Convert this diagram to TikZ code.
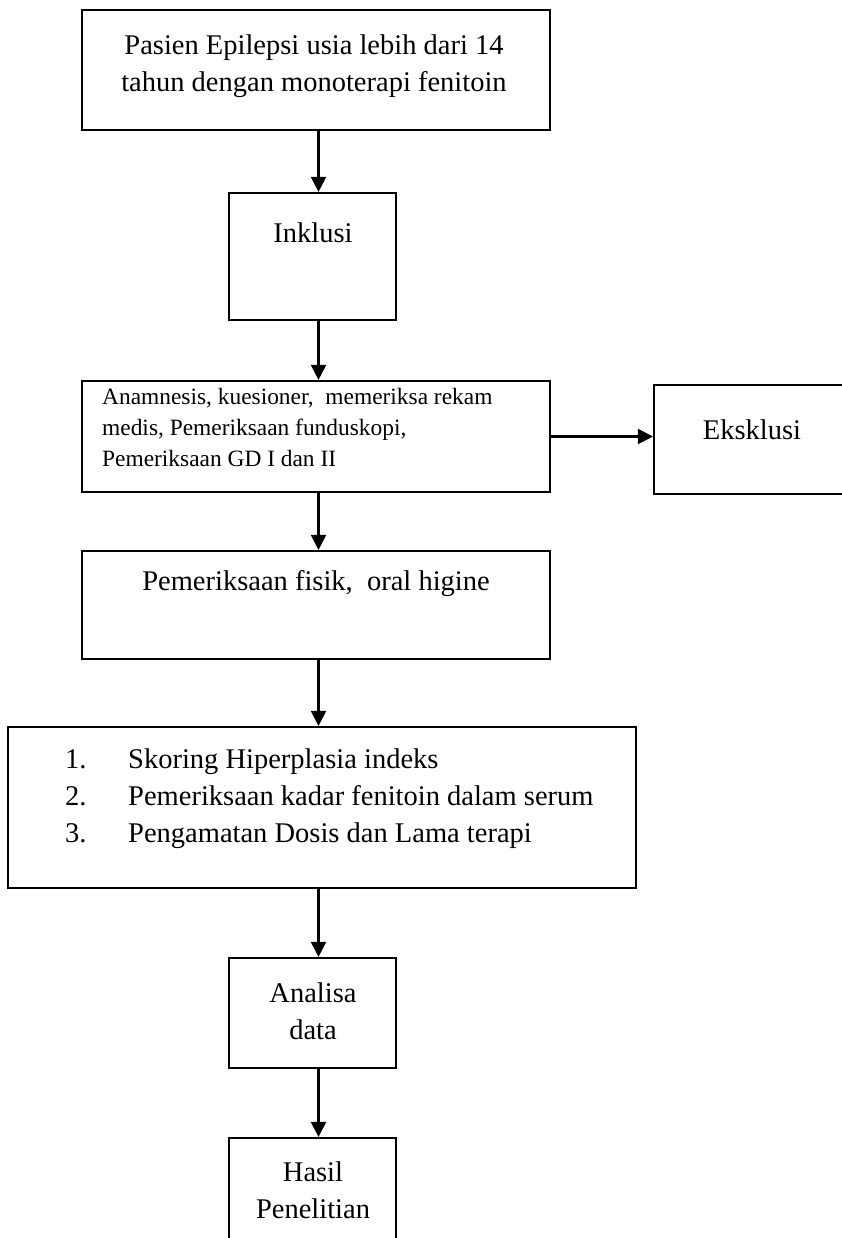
\documentclass[tikz,border=0pt]{standalone}
\usepackage{fontspec}
\setmainfont{Liberation Serif}
\usetikzlibrary{arrows.meta}

\begin{document}
\begin{tikzpicture}[x=1pt, y=-1pt,
		box/.style={draw, line width=2.2pt, inner sep=0pt},
		arr/.style={line width=2.2pt, -{Triangle[length=15pt, width=15pt]}},
		txt/.style={font=\fontsize{28.5}{37}\selectfont, align=center, inner sep=0pt}]
				\useasboundingbox (0,0) rectangle (842,1238);
				\clip (0,0) rectangle (842,1238);

				% 箱を置く
				\node[box, minimum width=468pt, minimum height=120pt] (pasien) at (316, 70) {};
				\node[box, minimum width=167pt, minimum height=127pt] (inklusi) at (312.5, 256.5) {};
				\node[box, minimum width=468pt, minimum height=111pt] (anamnesis) at (316, 436.5) {};
				\node[box, minimum width=246pt, minimum height=109pt] (eksklusi) at (777, 439.5) {};
				\node[box, minimum width=468pt, minimum height=108pt] (fisik) at (316, 605) {};
				\node[box, minimum width=628pt, minimum height=161pt] (skoring) at (322, 807.5) {};
				\node[box, minimum width=167pt, minimum height=110pt] (analisa) at (312.5, 1013) {};
				\node[box, minimum width=167pt, minimum height=162pt] (hasil) at (312.5, 1219) {};
				\coordinate (poros) at (318.5, 0);

				% 線を引く
				\draw[arr] (pasien.south -| poros) -- (inklusi.north -| poros);
				\draw[arr] (inklusi.south -| poros) -- (anamnesis.north -| poros);
				\draw[arr] (anamnesis.east) -- (anamnesis.east -| eksklusi.west);
				\draw[arr] (anamnesis.south -| poros) -- (fisik.north -| poros);
				\draw[arr] (fisik.south -| poros) -- (skoring.north -| poros);
				\draw[arr] (skoring.south -| poros) -- (analisa.north -| poros);
				\draw[arr] (analisa.south -| poros) -- (hasil.north -| poros);

				% 文字を入れる
				\node[txt] (tpasien) at (314, 66) {Pasien Epilepsi usia lebih dari 14\\tahun dengan monoterapi fenitoin};
				\node[txt] (tinklusi) at (313, 233) {Inklusi};
				\node[txt, font=\fontsize{23.4}{31}\selectfont, align=left, anchor=west] (tanamnesis) at (102, 427)
					{Anamnesis, kuesioner,\ \ memeriksa rekam\\medis, Pemeriksaan funduskopi,\\Pemeriksaan GD I dan II};
				\node[txt] (teksklusi) at (752, 430) {Eksklusi};
				\node[txt] (tfisik) at (316, 584) {Pemeriksaan fisik,\ \ oral higine};
				\node[txt, align=left, anchor=west] (tskoring) at (65, 799)
					{\makebox[63pt][l]{1.}Skoring Hiperplasia indeks\\
					 \makebox[63pt][l]{2.}Pemeriksaan kadar fenitoin dalam serum\\
					 \makebox[63pt][l]{3.}Pengamatan Dosis dan Lama terapi};
				\node[txt] (tanalisa) at (313, 1011) {Analisa\\data};
				\node[txt] (thasil) at (313, 1190) {Hasil\\Penelitian};

			\end{tikzpicture}
\end{document}
